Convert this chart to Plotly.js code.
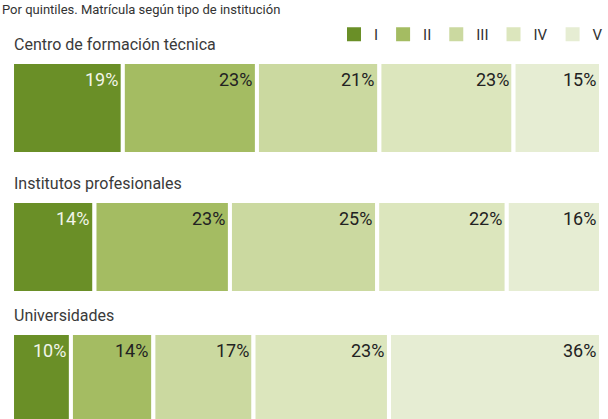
<!DOCTYPE html>
<html>
<head>
<meta charset="utf-8">
<script src="https://cdn.plot.ly/plotly-3.0.1.min.js"></script>
<style>html,body{margin:0;padding:0;background:#fff;}#chart{width:608px;height:419px;}</style>
</head>
<body>
<div id="chart"></div>
<script>
var institutions = ["Centro de formación técnica", "Institutos profesionales", "Universidades"];
var quintiles = ["I", "II", "III", "IV", "V"];
var cftValues = [19, 23, 21, 23, 15];
var ipValues = [14, 23, 25, 22, 16];
var uniValues = [10, 14, 17, 23, 36];
var subtitle = "Por quintiles. Matrícula según tipo de institución";

var colors = ["#6a8f27", "#a4bc62", "#cbd9a0", "#dce6bd", "#e6edd3"];
var textColors = ["#f2f5ea", "#222", "#222", "#222", "#222"];
var rows = [cftValues, ipValues, uniValues];
var axisIds = ["", "2", "3"];
var domains = [[0.6325, 0.852], [0.3007, 0.520], [0, 0.2053]];
var yRanges = [[-0.5, 0.5], [-0.5, 0.5], [-0.45, 0.5]];

var traces = [];
var annotations = [];
var font = "Roboto, 'Open Sans', sans-serif";

rows.forEach(function (vals, r) {
  var ax = axisIds[r];
  var cum = 0;
  vals.forEach(function (v, q) {
    traces.push({
      type: "bar",
      orientation: "h",
      x: [v],
      y: [0],
      base: [cum],
      width: 1,
      name: quintiles[q],
      showlegend: false,
      marker: { color: colors[q], line: { color: "#ffffff", width: 4 } },
      xaxis: "x" + ax,
      yaxis: "y" + ax,
      hoverinfo: "skip"
    });
    cum += v;
    annotations.push({
      text: v + "%",
      x: cum,
      y: 0.31,
      xref: "x" + ax,
      yref: "y" + ax,
      xanchor: "right",
      yanchor: "middle",
      xshift: -3,
      showarrow: false,
      font: { family: font, size: 18, color: textColors[q] }
    });
  });
  annotations.push({
    text: institutions[r],
    x: 0.02,
    y: 1,
    xref: "paper",
    yref: "y" + ax + " domain",
    xanchor: "left",
    yanchor: "bottom",
    yshift: 6,
    showarrow: false,
    font: { family: font, size: 16, color: "#3a3a3a" }
  });
});

// legend entries (square swatches)
quintiles.forEach(function (q, i) {
  traces.push({
    type: "scatter",
    mode: "markers",
    x: [null],
    y: [null],
    name: q,
    showlegend: true,
    marker: { symbol: "square", size: 14, color: colors[i] },
    xaxis: "x",
    yaxis: "y",
    hoverinfo: "skip"
  });
});

annotations.push({
  text: subtitle,
  x: 0,
  y: 1,
  xref: "paper",
  yref: "paper",
  xanchor: "left",
  yanchor: "top",
  showarrow: false,
  font: { family: font, size: 13, color: "#333" }
});

var layout = {
  width: 608,
  height: 419,
  margin: { l: 0, r: 0, t: 0, b: 0 },
  paper_bgcolor: "#ffffff",
  plot_bgcolor: "#ffffff",
  barmode: "overlay",
  showlegend: true,
  legend: {
    orientation: "h",
    x: 1.012,
    xanchor: "right",
    y: 1 - 18 / 419,
    yanchor: "top",
    font: { family: font, size: 15, color: "#333" },
    itemclick: false,
    traceorder: "normal",
    bgcolor: "rgba(0,0,0,0)"
  },
  annotations: annotations
};

rows.forEach(function (vals, r) {
  var ax = axisIds[r];
  var total = vals.reduce(function (a, b) { return a + b; }, 0);
  layout["xaxis" + ax] = {
    domain: [0.02, 1],
    range: [0, total],
    anchor: "y" + ax,
    visible: false,
    fixedrange: true
  };
  layout["yaxis" + ax] = {
    domain: domains[r],
    range: yRanges[r],
    anchor: "x" + ax,
    visible: false,
    fixedrange: true
  };
});

Plotly.newPlot("chart", traces, layout, { displayModeBar: false, staticPlot: true });
</script>
</body>
</html>
